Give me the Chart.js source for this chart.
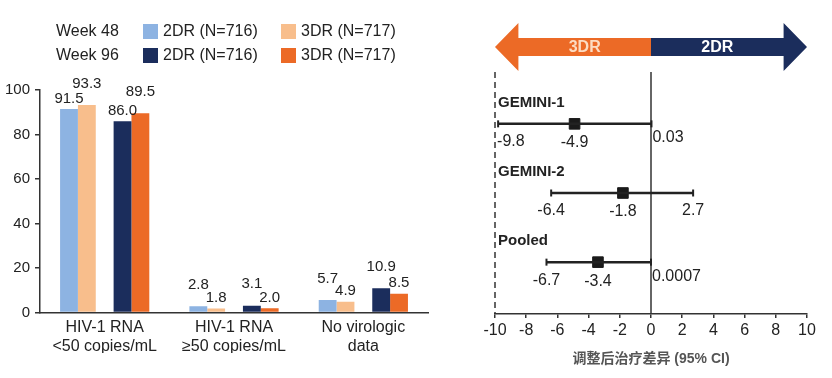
<!DOCTYPE html>
<html>
<head>
<meta charset="utf-8">
<script src="https://cdn.jsdelivr.net/npm/chart.js@4"></script>
<style>
  body { margin: 0; background: #fff; font-family: "Liberation Sans", Arial, sans-serif; }
  #wrap { position: relative; width: 832px; height: 378px; overflow: hidden; }
  #left { position: absolute; left: 0; top: 0; width: 440px; height: 378px; }
  #right { position: absolute; left: 470px; top: 0; width: 362px; height: 378px; }
  .lg { position: absolute; font-size: 16px; color: #222; line-height: 18px; white-space: nowrap; }
  .sw { position: absolute; width: 15px; height: 15px; }
</style>
</head>
<body>
<div id="wrap">
  <div id="left"><canvas id="bars"></canvas></div>
  <div id="right"><canvas id="forest"></canvas></div>
  <div id="legend"></div>
</div>
<script>
const categories = [['HIV-1 RNA', '<50 copies/mL'], ['HIV-1 RNA', '≥50 copies/mL'], ['No virologic', 'data']]
const week48_2dr = [91.5, 2.8, 5.7]
const week48_3dr = [93.3, 1.8, 4.9]
const week96_2dr = [86.0, 3.1, 10.9]
const week96_3dr = [89.5, 2.0, 8.5]
const yTicks = [0, 20, 40, 60, 80, 100]

const studies = ['GEMINI-1', 'GEMINI-2', 'Pooled']
const diffs = [-4.9, -1.8, -3.4]
const ciLow = [-9.8, -6.4, -6.7]
const ciHigh = [0.03, 2.7, 0.0007]
const xTicks = [-10, -8, -6, -4, -2, 0, 2, 4, 6, 8, 10]

const FONT = '"Liberation Sans", Arial, "Noto Sans CJK SC", sans-serif'
const colors = { lb: '#8db3e2', lo: '#f8be8c', navy: '#1b2d5c', orange: '#ec6a26' }

// legend (html)
const legendRows = [
    { label: 'Week 48', items: [[colors.lb, '2DR (N=716)'], [colors.lo, '3DR (N=717)']] },
    { label: 'Week 96', items: [[colors.navy, '2DR (N=716)'], [colors.orange, '3DR (N=717)']] }
]
let html = ''
legendRows.forEach((row, r) => {
    const top = 22 + r * 24
    html += `<div class="lg" style="left:56px;top:${top}px">${row.label}</div>`
    row.items.forEach((it, k) => {
        const x = 143 + k * 138
        html += `<div class="sw" style="left:${x}px;top:${top + 2}px;background:${it[0]}"></div>`
        html += `<div class="lg" style="left:${x + 20}px;top:${top}px">${it[1]}</div>`
    })
})
document.querySelector('#legend').innerHTML = html

// value labels above bars; the taller bar of each pair gets lifted
const barLabels = {
    id: 'barLabels',
    afterDatasetsDraw(chart) {
        const ctx = chart.ctx
        const pairs = [[0, 1], [3, 4]]
        ctx.save()
        ctx.font = '15px ' + FONT
        ctx.fillStyle = '#222'
        ctx.textAlign = 'center'
        ctx.textBaseline = 'bottom'
        pairs.forEach(([a, b]) => {
            [a, b].forEach((d, k) => {
                const other = k == 0 ? b : a
                const meta = chart.getDatasetMeta(d)
                meta.data.forEach((bar, j) => {
                    const v = chart.data.datasets[d].data[j]
                    const ov = chart.data.datasets[other].data[j]
                    const lift = v > ov ? 14 : 3
                    ctx.fillText(v.toFixed(1), bar.x, bar.y - lift)
                })
            })
        })
        ctx.restore()
    }
}

new Chart(document.querySelector('#bars'), {
    type: 'bar',
    data: {
        labels: categories,
        datasets: [
            { data: week48_2dr, backgroundColor: colors.lb },
            { data: week48_3dr, backgroundColor: colors.lo },
            { data: categories.map(() => null) },
            { data: week96_2dr, backgroundColor: colors.navy },
            { data: week96_3dr, backgroundColor: colors.orange }
        ]
    },
    options: {
        responsive: true,
        maintainAspectRatio: false,
        animation: false,
        layout: { padding: { top: 90, left: 0, right: 12, bottom: 25 } },
        datasets: { bar: { categoryPercentage: 0.69, barPercentage: 1 } },
        plugins: { legend: { display: false }, tooltip: { enabled: false } },
        scales: {
            x: {
                grid: { display: false },
                border: { color: '#333', width: 1.5 },
                ticks: { color: '#222', font: { family: FONT, size: 16 }, padding: -3, maxRotation: 0 }
            },
            y: {
                min: 0, max: 100,
                afterBuildTicks: s => { s.ticks = yTicks.map(v => ({ value: v })) },
                grid: { drawOnChartArea: false, color: '#333', tickLength: 5, lineWidth: 1.5 },
                border: { color: '#333', width: 1.5 },
                ticks: { color: '#222', font: { family: FONT, size: 15 }, padding: 5 }
            }
        }
    },
    plugins: [barLabels]
})

// forest plot extras: arrow header, reference lines, study names, value labels
const forestDeco = {
    id: 'forestDeco',
    beforeDatasetsDraw(chart) {
        const ctx = chart.ctx
        const xs = chart.scales.x, ys = chart.scales.y
        const area = chart.chartArea
        const x0 = xs.getPixelForValue(0)
        const xl = xs.getPixelForValue(xs.min), xr = xs.getPixelForValue(xs.max)
        const hl = xs.getPixelForValue(xs.min + 1.5), hr = xs.getPixelForValue(xs.max - 1.5)
        const cy = area.top - 25
        ctx.save()
        // arrow
        ctx.fillStyle = colors.orange
        ctx.beginPath()
        ctx.moveTo(xl, cy)
        ctx.lineTo(hl, cy - 24); ctx.lineTo(hl, cy - 9); ctx.lineTo(x0, cy - 9)
        ctx.lineTo(x0, cy + 9); ctx.lineTo(hl, cy + 9); ctx.lineTo(hl, cy + 24)
        ctx.closePath(); ctx.fill()
        ctx.fillStyle = colors.navy
        ctx.beginPath()
        ctx.moveTo(xr, cy)
        ctx.lineTo(hr, cy - 24); ctx.lineTo(hr, cy - 9); ctx.lineTo(x0, cy - 9)
        ctx.lineTo(x0, cy + 9); ctx.lineTo(hr, cy + 9); ctx.lineTo(hr, cy + 24)
        ctx.closePath(); ctx.fill()
        ctx.font = 'bold 16px ' + FONT
        ctx.textAlign = 'center'; ctx.textBaseline = 'middle'
        ctx.fillStyle = '#fcdcc2'
        ctx.fillText('3DR', (hl + x0) / 2, cy + 1)
        ctx.fillStyle = '#fff'
        ctx.fillText('2DR', (hr + x0) / 2, cy + 1)
        // reference lines
        ctx.strokeStyle = '#333'; ctx.lineWidth = 1.5
        ctx.beginPath(); ctx.moveTo(x0, area.top); ctx.lineTo(x0, area.bottom); ctx.stroke()
        ctx.setLineDash([6, 4])
        ctx.beginPath(); ctx.moveTo(xl, area.top); ctx.lineTo(xl, area.bottom); ctx.stroke()
        ctx.setLineDash([])
        // study names + numbers
        ctx.fillStyle = '#222'
        studies.forEach((name, i) => {
            const y = ys.getPixelForValue(studies.length - i)
            ctx.font = 'bold 15px ' + FONT
            ctx.textAlign = 'left'
            ctx.fillText(name, xl + 3, y - 21)
            ctx.font = '16px ' + FONT
            const put = (v, dy) => {
                const px = xs.getPixelForValue(v)
                if (v < xs.min + 1) { ctx.textAlign = 'left'; ctx.fillText(String(v), px - 1, y + dy) }
                else if (Math.abs(v) < 0.5) { ctx.textAlign = 'left'; ctx.fillText(String(v), px + 1, y + dy - 4) }
                else { ctx.textAlign = 'center'; ctx.fillText(String(v), px, y + dy) }
            }
            put(ciLow[i], 18)
            put(diffs[i], 19)
            put(ciHigh[i], 18)
        })
        ctx.restore()
    }
}

const ciSets = studies.map((s, i) => ({
    type: 'line',
    data: [{ x: ciLow[i], y: studies.length - i }, { x: ciHigh[i], y: studies.length - i }],
    borderColor: '#222',
    borderWidth: 2.5,
    pointStyle: 'line',
    rotation: 90,
    pointRadius: 3.5,
    pointBorderWidth: 2,
    pointBorderColor: '#222'
}))

new Chart(document.querySelector('#forest'), {
    type: 'scatter',
    data: {
        datasets: [
            ...ciSets,
            {
                data: diffs.map((d, i) => ({ x: d, y: studies.length - i })),
                pointStyle: 'rect',
                pointRadius: 7.5,
                backgroundColor: '#1a1a1a',
                borderColor: '#1a1a1a'
            }
        ]
    },
    options: {
        responsive: true,
        maintainAspectRatio: false,
        animation: false,
        layout: { padding: { top: 72, left: 25, right: 25, bottom: 6 } },
        plugins: { legend: { display: false }, tooltip: { enabled: false } },
        scales: {
            x: {
                type: 'linear', min: -10, max: 10,
                afterBuildTicks: s => { s.ticks = xTicks.map(v => ({ value: v })) },
                grid: { drawOnChartArea: false, color: '#333', tickLength: 4, lineWidth: 1.5 },
                border: { color: '#333', width: 1.5 },
                ticks: { color: '#222', font: { family: FONT, size: 16 }, padding: 3 },
                title: {
                    display: true, text: '调整后治疗差异 (95% CI)', color: '#555',
                    font: { family: FONT, size: 14, weight: 'bold' }, padding: { top: 8, bottom: 4 }
                }
            },
            y: { display: false, min: 0.25, max: 3.75 }
        }
    },
    plugins: [forestDeco]
})
</script>
</body>
</html>
